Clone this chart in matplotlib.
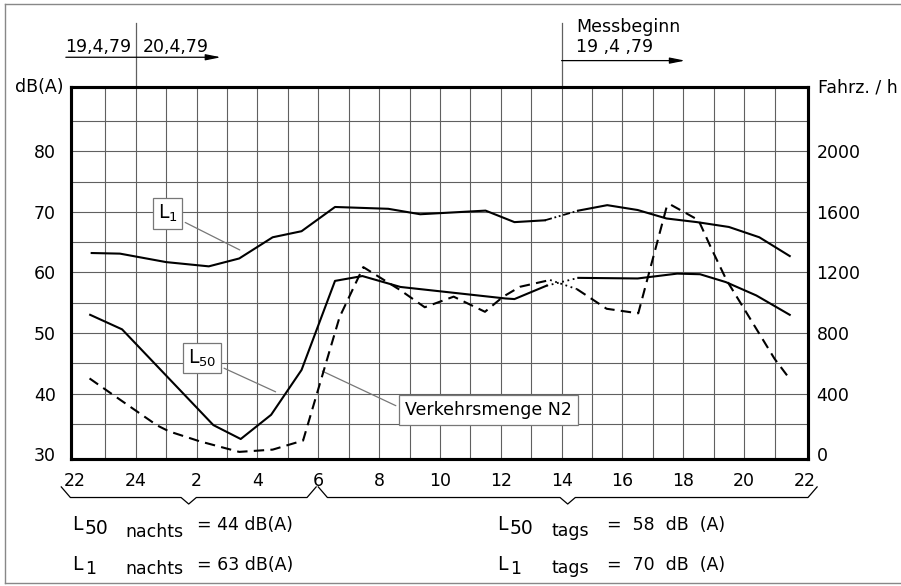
import matplotlib
matplotlib.use("Agg")
import matplotlib.pyplot as plt
import matplotlib.transforms as mtransforms
from matplotlib.lines import Line2D

# time in hours counted on from 22:00 (24 = midnight, 46 = 22:00 next day)
l1_hours = [22.55, 23.48, 25.0, 26.4, 27.4, 28.5, 29.45, 30.55, 32.3, 33.35, 35.5, 36.45, 37.45,
            38.55, 39.5, 40.5, 41.45, 42.45, 43.5, 44.5, 45.5]
l1_db = [63.2, 63.1, 61.7, 61.0, 62.3, 65.8, 66.8, 70.8, 70.5, 69.6, 70.2, 68.3, 68.6,
         70.2, 71.1, 70.3, 68.9, 68.3, 67.5, 65.8, 62.7]

l50_hours = [22.5, 23.55, 26.55, 27.45, 28.45, 29.45, 30.55, 31.45, 32.7, 36.15, 36.45, 37.5,
             38.55, 40.5, 41.8, 42.55, 43.4, 44.4, 45.5]
l50_db = [53.0, 50.6, 34.8, 32.5, 36.5, 43.9, 58.6, 59.4, 57.6, 55.7, 55.6, 57.8,
          59.1, 59.0, 59.8, 59.7, 58.4, 56.2, 53.0]

traffic_hours = [22.48, 23.05, 24.7, 25.1, 26.1, 27.4, 28.5, 29.5, 30.7, 31.48, 31.8, 32.68, 33.5,
                 34.45, 35.48, 36.08, 36.63, 37.62, 38.5, 39.48, 40.52, 41.45, 41.56, 42.1, 42.5,
                 42.93, 43.42, 44.03, 45.0, 45.45]
traffic_veh = [500, 420, 190, 150, 85, 15, 30, 90, 905, 1235, 1195, 1085, 970,
               1040, 940, 1040, 1105, 1150, 1090, 960, 930, 1630, 1650, 1590, 1545,
               1355, 1150, 950, 630, 510]

x_ticks = list(range(22, 47, 2))
x_tick_labels = ["22", "24", "2", "4", "6", "8", "10", "12", "14", "16", "18", "20", "22"]
db_ticks = [30, 40, 50, 60, 70, 80]
veh_ticks = [0, 400, 800, 1200, 1600, 2000]

night = (22, 30)
day = (30, 46)
no_data = (37.7, 38.4)  # bridged with a dotted line (Messbeginn 14 Uhr)

plt.rcParams["font.family"] = ["DejaVu Sans"]
FS = 12.5
GRID = "#606060"

fig = plt.figure(figsize=(9.01, 5.86), dpi=100)
ax = fig.add_axes([0.0788, 0.2167, 0.8183, 0.6348])
ax.set_xlim(21.87, 46.11)
ax.set_ylim(29.2, 90.6)
ax2 = ax.twinx()
ax2.set_ylim((29.2 - 30) * 40, (90.6 - 30) * 40)


def draw(a, hours, vals, style, dotted):
    before = [i for i, h in enumerate(hours) if h < no_data[0]]
    after = [i for i, h in enumerate(hours) if h > no_data[1]]
    a.plot([hours[i] for i in before], [vals[i] for i in before], color="k", lw=1.5, ls=style)
    a.plot([hours[i] for i in after], [vals[i] for i in after], color="k", lw=1.5, ls=style)
    a.plot([hours[before[-1]], hours[after[0]]], [vals[before[-1]], vals[after[0]]],
           color="k", lw=1.3, ls=dotted)


draw(ax, l1_hours, l1_db, "-", (0, (4, 1.5, 1, 1.5, 1, 1.5)))
draw(ax, l50_hours, l50_db, "-", (0, (1, 2)))
draw(ax2, traffic_hours, traffic_veh, (0, (5, 3)), (0, (1, 2)))

# grid: every hour and every 5 dB
ax.xaxis.remove_overlapping_locs = False
ax.yaxis.remove_overlapping_locs = False
ax.set_xticks(x_ticks)
ax.set_xticklabels(x_tick_labels)
ax.set_xticks(range(23, 46), minor=True)
ax.set_yticks(db_ticks)
ax.set_yticks(range(35, 90, 5), minor=True)
ax.grid(which="minor", color=GRID, lw=0.8)
ax.grid(which="major", visible=False)
ax.tick_params(which="both", length=0, labelsize=FS)
ax.tick_params(axis="x", pad=9)
ax.tick_params(axis="y", pad=11)
ax2.set_yticks(veh_ticks)
ax2.tick_params(length=0, labelsize=FS, pad=6)
for a in (ax, ax2):
    for s in a.spines.values():
        s.set_linewidth(2.2)

# labels of the curves
box = dict(boxstyle="square,pad=0.25", fc="white", ec="#777777", lw=0.9)
lead = dict(arrowstyle="-", color="#777777", lw=0.9)
ax.annotate("L$_1$", xy=(27.5, 63.5), xytext=(25.05, 69.7), ha="center", va="center",
            fontsize=FS + 1, bbox=box, arrowprops=lead)
ax.annotate("L$_{50}$", xy=(28.68, 40.1), xytext=(26.18, 45.85), ha="center", va="center",
            fontsize=FS + 1, bbox=box, arrowprops=lead)
ax.annotate("Verkehrsmenge N2", xy=(30.05, 43.9), xytext=(35.59, 37.3), ha="center", va="center",
            fontsize=FS, bbox=dict(boxstyle="square,pad=0.35", fc="white", ec="#777777", lw=0.9),
            arrowprops=dict(lead, relpos=(0, 0.5)))

fig.text(63 / 901, 1 - 87 / 586, "dB(A)", ha="right", va="center", fontsize=FS)
fig.text(818 / 901, 1 - 87 / 586, "Fahrz. / h", ha="left", va="center", fontsize=FS)

# dates above the chart
trans = mtransforms.blended_transform_factory(ax.transData, ax.transAxes)
for h in (24, 38):
    ax.plot([h, h], [1, 1.172], transform=trans, clip_on=False, color=GRID, lw=0.9)
arrow = dict(arrowstyle="-|>,head_length=0.9,head_width=0.18", color="k", lw=0.9, shrinkA=0, shrinkB=0)
ax.annotate("", xy=(26.8, 1.08), xytext=(21.7, 1.08), xycoords=trans, textcoords=trans,
            arrowprops=arrow)
ax.annotate("", xy=(42.06, 1.071), xytext=(38, 1.071), xycoords=trans, textcoords=trans,
            arrowprops=arrow)
ax.text(21.68, 1.094, "19,4,79", transform=trans, fontsize=FS, va="baseline")
ax.text(24.24, 1.094, "20,4,79", transform=trans, fontsize=FS, va="baseline")
ax.text(38.47, 1.148, "Messbeginn", transform=trans, fontsize=FS, va="baseline")
ax.text(38.47, 1.094, "19 ,4 ,79", transform=trans, fontsize=FS, va="baseline")


# braces for night / day
def brace(x0, x1):
    c = (x0 + x1) / 2
    xs = [x0, x0 + 0.3, c - 0.25, c, c + 0.25, x1 - 0.3, x1]
    ys = [-0.075, -0.1035, -0.1035, -0.121, -0.1035, -0.1035, -0.075]
    ax.plot(xs, ys, transform=trans, clip_on=False, color="k", lw=0.9)


brace(night[0] - 0.45, night[1] - 0.07)
brace(day[0], day[1] + 0.4)


def ftext(x, y, s, size=FS):
    fig.text(x / 901, 1 - y / 586, s, fontsize=size, va="baseline")


for x0 in (72, 497):
    ftext(x0, 530, "L", FS + 1)
    ftext(x0 + 13, 534, "50", FS + 1)
    ftext(x0, 570, "L", FS + 1)
    ftext(x0 + 13, 574, "1", FS)
ftext(125, 537, "nachts")
ftext(125, 574, "nachts")
ftext(197, 530, "= 44 dB(A)")
ftext(197, 570, "= 63 dB(A)")
ftext(552, 536, "tags")
ftext(552, 573, "tags")
ftext(607, 530, "=  58  dB  (A)")
ftext(607, 570, "=  70  dB  (A)")

# outer frame
for xs, ys in (([5, 5], [4, 583]), ([5, 901], [4, 4]), ([5, 901], [583, 583])):
    fig.add_artist(Line2D([x / 901 for x in xs], [1 - y / 586 for y in ys], color="#888888", lw=1))

fig.savefig("out.png", dpi=100, facecolor="white")
